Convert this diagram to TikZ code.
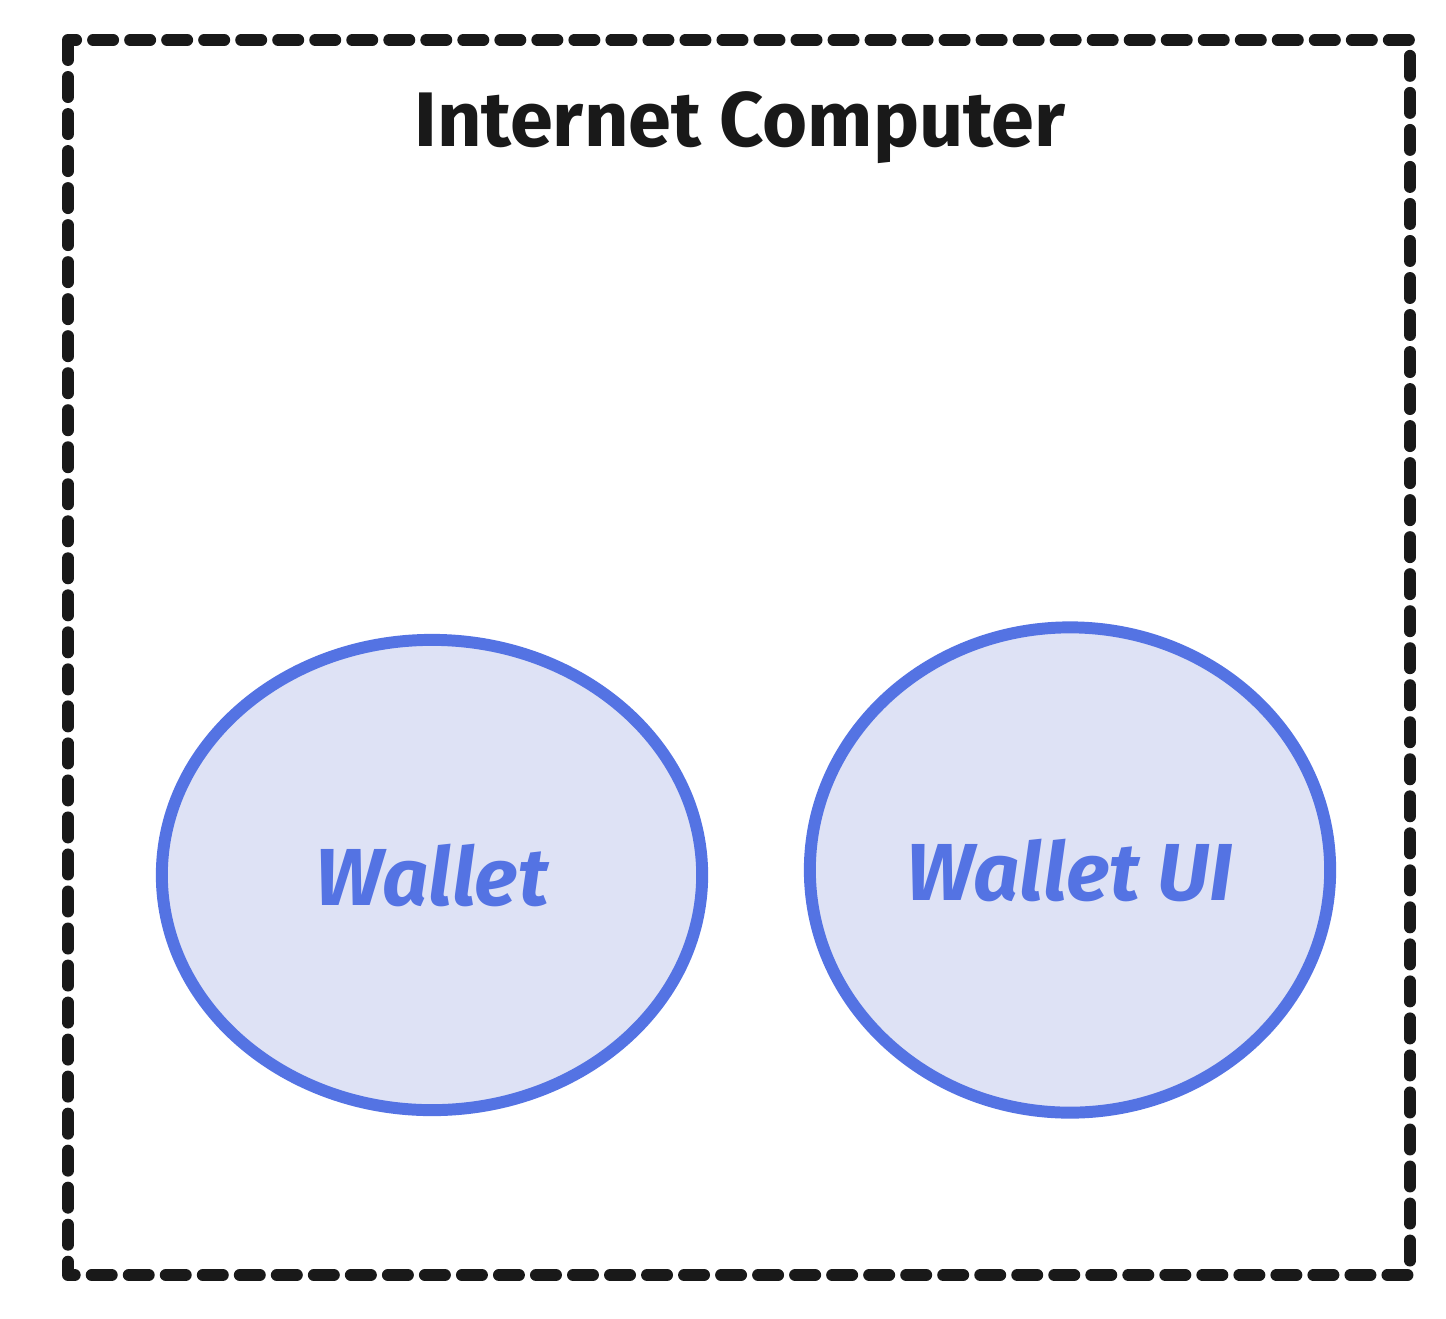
\documentclass[tikz,border=0pt]{standalone}
\usepackage{fontspec}
\setmainfont{Fira Sans}
\usetikzlibrary{shapes.geometric}
\definecolor{wblue}{HTML}{5473E3}
\definecolor{wfill}{HTML}{DEE2F5}
\begin{document}
\begin{tikzpicture}[x=0.01cm,y=-0.01cm,
  frame/.style={draw=black!90,line width=3.4pt,dash pattern=on 0.2cm off 0.17cm,line cap=round,line join=round},
  comp/.style={ellipse,draw=wblue,fill=wfill,line width=3.4pt,inner sep=0pt,text=wblue,font=\fontsize{23}{28}\selectfont\bfseries\itshape}]
\useasboundingbox (0,0) rectangle (1446,1318);
\draw[frame] (68,40) rectangle (1410,1275);
\node[font=\fontsize{22}{26}\selectfont\bfseries,text=black!90] (title) at (740,128) {Internet Computer};
\node[comp,minimum width=5.4cm,minimum height=4.7cm] (wallet) at (432,875) {Wallet};
\node[comp,minimum width=5.2cm,minimum height=4.85cm] (walletui) at (1070,870) {Wallet UI};
\end{tikzpicture}
\end{document}
